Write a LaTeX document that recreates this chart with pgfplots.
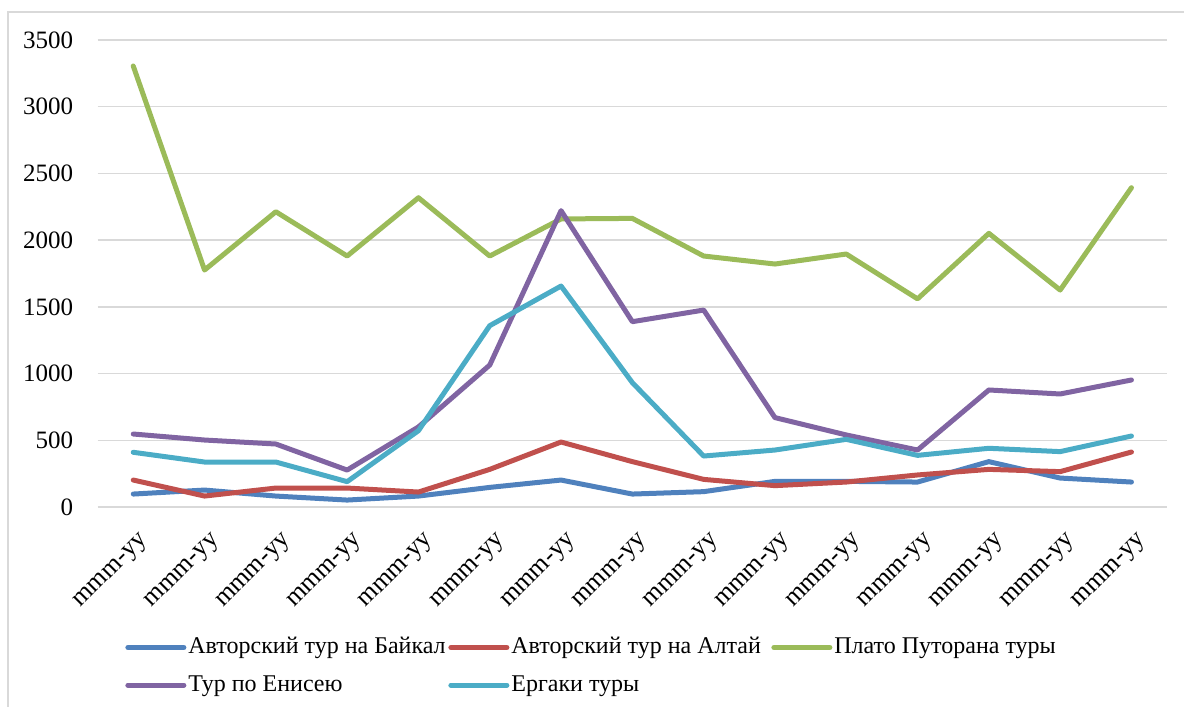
\documentclass[border=0pt]{standalone}
\usepackage{fontspec}
\setmainfont{Liberation Serif}
\usepackage{pgfplots}
\pgfplotsset{compat=1.18}
\definecolor{cB}{HTML}{4F81BD}
\definecolor{cR}{HTML}{C0504D}
\definecolor{cG}{HTML}{9BBB59}
\definecolor{cP}{HTML}{8064A2}
\definecolor{cC}{HTML}{4BACC6}
\definecolor{gridc}{HTML}{D9D9D9}
\newcommand{\lb}[1]{\makebox[129pt][l]{#1}}
\begin{document}
\fontsize{12}{14}\selectfont
\begin{tikzpicture}
\path[use as bounding box] (0,0) rectangle (592pt,353.5pt);
\draw[color=gridc, line width=0.7pt] (4pt,0) -- (4pt,347.5pt) -- (592pt,347.5pt);
\begin{axis}[
  at={(48.8pt,100pt)}, anchor=south west,
  scale only axis, width=534.75pt, height=233.5pt,
  xmin=-0.5, xmax=14.5, ymin=0, ymax=3500,
  ytick={0,500,...,3500},
  xtick={0,...,14},
  xticklabels={mmm-yy,mmm-yy,mmm-yy,mmm-yy,mmm-yy,mmm-yy,mmm-yy,mmm-yy,mmm-yy,mmm-yy,mmm-yy,mmm-yy,mmm-yy,mmm-yy,mmm-yy},
  axis line style={draw=none},
  major tick length=0pt,
  ymajorgrids,
  grid style={gridc, line width=0.75pt},
  /pgf/number format/assume math mode=true,
  /pgf/number format/1000 sep={},
  yticklabel style={font=\fontsize{12.5}{14}\selectfont, xshift=-8pt},
  xticklabel style={font=\fontsize{13}{15}\selectfont, xshift=3pt, yshift=-12pt, rotate=45, anchor=north east, inner sep=0pt},
  legend style={at={(0.0256,-0.27)}, anchor=north west, draw=none, fill=none,
    font=\fontsize{12}{14}\selectfont, inner sep=0pt,
    nodes={inner xsep=1pt, inner ysep=2pt},
    row sep=5pt},
  legend columns=3,
  legend cell align=left,
  legend image code/.code={\draw[#1, line cap=round] (0pt,0pt) -- (28pt,0pt);},
  every axis plot/.append style={line width=2.5pt, line join=round, line cap=round},
  no markers,
]
\addplot[cB] coordinates {(0,97)(1,127)(2,82)(3,52)(4,82)(5,147)(6,202)(7,97)(8,115)(9,192)(10,192)(11,187)(12,340)(13,217)(14,187)};
\addlegendentry{\lb{Авторский тур на Байкал}}
\addplot[cR] coordinates {(0,202)(1,82)(2,142)(3,142)(4,112)(5,282)(6,487)(7,340)(8,207)(9,160)(10,187)(11,240)(12,282)(13,265)(14,412)};
\addlegendentry{\lb{Авторский тур на Алтай}}
\addplot[cG] coordinates {(0,3305)(1,1776)(2,2213)(3,1881)(4,2318)(5,1881)(6,2159)(7,2163)(8,1881)(9,1821)(10,1896)(11,1560)(12,2051)(13,1626)(14,2393)};
\addlegendentry{Плато Путорана туры}
\addplot[cP] coordinates {(0,547)(1,502)(2,472)(3,277)(4,600)(5,1064)(6,2221)(7,1389)(8,1476)(9,670)(10,540)(11,427)(12,877)(13,847)(14,952)};
\addlegendentry{\lb{Тур по Енисею}}
\addplot[cC] coordinates {(0,410)(1,337)(2,337)(3,190)(4,572)(5,1359)(6,1656)(7,932)(8,382)(9,427)(10,507)(11,387)(12,440)(13,415)(14,532)};
\addlegendentry{\lb{Ергаки туры}}
\end{axis}
\end{tikzpicture}
\end{document}
